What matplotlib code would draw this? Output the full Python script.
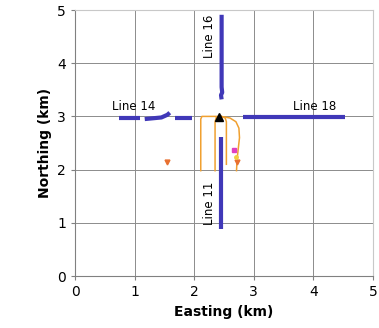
import numpy as np
import matplotlib
matplotlib.use("Agg")
import matplotlib.pyplot as plt

# Survey lines (km)
line16_x = [2.46, 2.46, 2.47, 2.45, 2.46]
line16_y = [4.91, 3.55, 3.45, 3.40, 3.32]
line11_x = [2.45, 2.45]
line11_y = [2.62, 0.88]
line14_segs = [([0.73, 1.09], [2.97, 2.97]),
               ([1.17, 1.45, 1.55, 1.59], [2.95, 2.98, 3.03, 3.07]),
               ([1.68, 1.96], [2.97, 2.97])]
line18_x = [2.82, 4.53]
line18_y = [2.98, 2.98]

# Orange tracks
track_a_x = [2.11, 2.11, 2.13, 2.45]
track_a_y = [1.98, 2.95, 3.00, 3.00]
track_b_x = [2.35, 2.35, 2.37, 2.45]
track_b_y = [1.98, 2.90, 2.98, 3.00]
track_c_x = [2.54, 2.54, 2.52, 2.45]
track_c_y = [2.10, 2.90, 2.97, 3.00]
track_d_x = [2.45, 2.60, 2.70, 2.75, 2.76, 2.74, 2.72, 2.71]
track_d_y = [3.00, 2.97, 2.90, 2.78, 2.60, 2.40, 2.20, 1.98]

source_x, source_y = 2.42, 2.98
orange_pts_x = [1.54, 2.71]
orange_pts_y = [2.15, 2.15]
magenta_x, magenta_y = 2.66, 2.36
yellow_x, yellow_y = 2.70, 2.24

fig = plt.figure(figsize=(3.79, 3.28), dpi=100)
ax = fig.add_axes([75 / 379, 1 - 276 / 328, 298 / 379, 266 / 328])

blue = "#4038b8"
orange = "#f0a030"
lw = 3

ax.plot(line16_x, line16_y, color=blue, lw=lw, solid_capstyle="butt")
ax.plot(line11_x, line11_y, color=blue, lw=lw, solid_capstyle="butt")
for sx, sy in line14_segs:
    ax.plot(sx, sy, color=blue, lw=lw, solid_capstyle="butt")
ax.plot(line18_x, line18_y, color=blue, lw=lw, solid_capstyle="butt")

for tx, ty in [(track_a_x, track_a_y), (track_b_x, track_b_y),
               (track_c_x, track_c_y), (track_d_x, track_d_y)]:
    ax.plot(tx, ty, color=orange, lw=1.1)

ax.plot(orange_pts_x, orange_pts_y, "v", color="#e87030", ms=3.5)
ax.plot(magenta_x, magenta_y, "s", color="#e040c0", ms=2.5)
ax.plot(yellow_x, yellow_y, "o", color="#f0d040", ms=2.5)
ax.plot(source_x, source_y, "^", color="black", ms=6)

fs = 8.5
ax.text(2.26, 4.5, "Line 16", rotation=90, ha="center", va="center", fontsize=fs)
ax.text(2.26, 1.37, "Line 11", rotation=90, ha="center", va="center", fontsize=fs)
ax.text(0.98, 3.18, "Line 14", ha="center", va="center", fontsize=fs)
ax.text(4.02, 3.18, "Line 18", ha="center", va="center", fontsize=fs)

ax.set_xlim(0, 5)
ax.set_ylim(0, 5)
ax.set_xticks(range(6))
ax.set_yticks(range(6))
ax.grid(True, color="#8c8c8c", lw=0.7)
ax.set_axisbelow(True)
for s in ["top", "right"]:
    ax.spines[s].set_color("#c8c8c8")
for s in ["left", "bottom"]:
    ax.spines[s].set_color("#808080")
ax.tick_params(length=3, color="#808080", labelsize=10)
ax.set_xlabel("Easting (km)", fontweight="bold", fontsize=10)
ax.set_ylabel("Northing (km)", fontweight="bold", fontsize=10)

fig.savefig("out.png", dpi=100)
